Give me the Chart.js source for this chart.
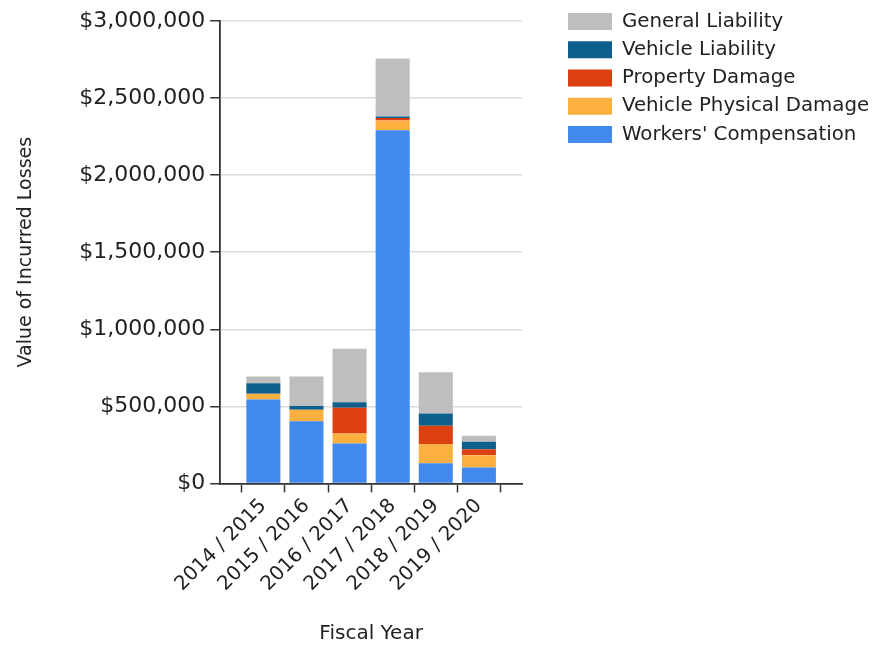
<!DOCTYPE html>
<html>
<head>
<meta charset="utf-8">
<title>Value of Incurred Losses by Fiscal Year</title>
<script src="https://cdn.jsdelivr.net/npm/chart.js@4/dist/chart.umd.min.js"></script>
<style>
  html, body { margin: 0; padding: 0; background: #ffffff; }
  canvas { display: block; }
</style>
</head>
<body>
<canvas id="losses" width="896" height="649"></canvas>
<script>
// Fiscal years on the x axis
const fiscalYears = ['2014 / 2015', '2015 / 2016', '2016 / 2017', '2017 / 2018', '2018 / 2019', '2019 / 2020'];

// Incurred losses per line of coverage (USD)
const workersComp      = [545000, 403000, 259000, 2291000, 131000, 103000];
const vehiclePhysical  = [ 36000,  75000,  64000,   64000, 125000,  79000];
const propertyDamage   = [     0,      0, 167000,   15000, 118000,  39000];
const vehicleLiability = [ 69000,  24000,  37000,   10000,  79000,  49000];
const generalLiability = [ 43000, 191000, 347000,  376000, 268000,  39000];

// Y axis tick settings
const yMax = 3000000;
const yStep = 500000;

const seriesNames = ["Workers' Compensation", 'Vehicle Physical Damage', 'Property Damage', 'Vehicle Liability', 'General Liability'];
const seriesValues = [workersComp, vehiclePhysical, propertyDamage, vehicleLiability, generalLiability];
const seriesColors = ['#4189ec', '#fbb040', '#dc4010', '#0f5f8c', '#bebebe'];

// One empty slot on each side of the years, so the bars sit inset from the axes
const labels = [''].concat(fiscalYears, ['']);
const datasets = seriesNames.map((name, i) => ({
  label: name,
  data: [null].concat(seriesValues[i], [null]),
  backgroundColor: seriesColors[i],
  borderWidth: 0,
  barPercentage: 0.79,
  categoryPercentage: 1.0
}));

const textColor = '#222222';
const axisColor = '#333333';
const fontFamily = '"DejaVu Sans", "Liberation Sans", Arial, sans-serif';

// Move the legend a little away from the plot area
const legendGap = 37.5;
const legendOffset = {
  id: 'legendOffset',
  afterLayout(chart) {
    const legend = chart.legend;
    if (legend) {
      legend.left += legendGap;
      legend.right += legendGap;
    }
  }
};

new Chart(document.getElementById('losses'), {
  type: 'bar',
  data: { labels: labels, datasets: datasets },
  plugins: [legendOffset],
  options: {
    responsive: false,
    devicePixelRatio: 1,
    animation: false,
    layout: { padding: { top: 3, left: 0, right: 15, bottom: 0 } },
    plugins: {
      tooltip: { enabled: false },
      legend: {
        position: 'right',
        align: 'start',
        reverse: true,
        maxWidth: 360,
        labels: {
          boxWidth: 44,
          boxHeight: 17,
          padding: 8.5,
          color: textColor,
          font: { family: fontFamily, size: 19.8 }
        }
      }
    },
    scales: {
      x: {
        stacked: true,
        offset: false,
        grid: {
          display: true,
          drawOnChartArea: false,
          drawTicks: true,
          tickLength: 9,
          tickColor: axisColor,
          tickWidth: 1.5
        },
        border: { display: true, color: axisColor, width: 1.8 },
        ticks: {
          autoSkip: false,
          minRotation: 45,
          maxRotation: 45,
          padding: 2,
          color: textColor,
          font: { family: fontFamily, size: 19.8 }
        },
        title: {
          display: true,
          text: 'Fiscal Year',
          color: textColor,
          font: { family: fontFamily, size: 20 },
          padding: { top: 24, bottom: 3 }
        },
        // keep clear space between the plot and the legend
        afterFit: (scale) => { scale.paddingRight = 374; }
      },
      y: {
        stacked: true,
        min: 0,
        max: yMax,
        grid: {
          color: '#dcdcdc',
          lineWidth: 1.5,
          tickColor: axisColor,
          tickWidth: 1.5,
          tickLength: 10
        },
        border: { display: true, color: axisColor, width: 1.8 },
        ticks: {
          stepSize: yStep,
          padding: 5,
          color: textColor,
          font: { family: fontFamily, size: 22 },
          callback: (v) => '$' + Number(v).toLocaleString('en-US')
        },
        title: {
          display: true,
          text: 'Value of Incurred Losses',
          color: textColor,
          font: { family: fontFamily, size: 19 },
          padding: { top: 15, bottom: 39 }
        },
        afterFit: (scale) => { scale.paddingTop = 21; }
      }
    }
  }
});
</script>
</body>
</html>
